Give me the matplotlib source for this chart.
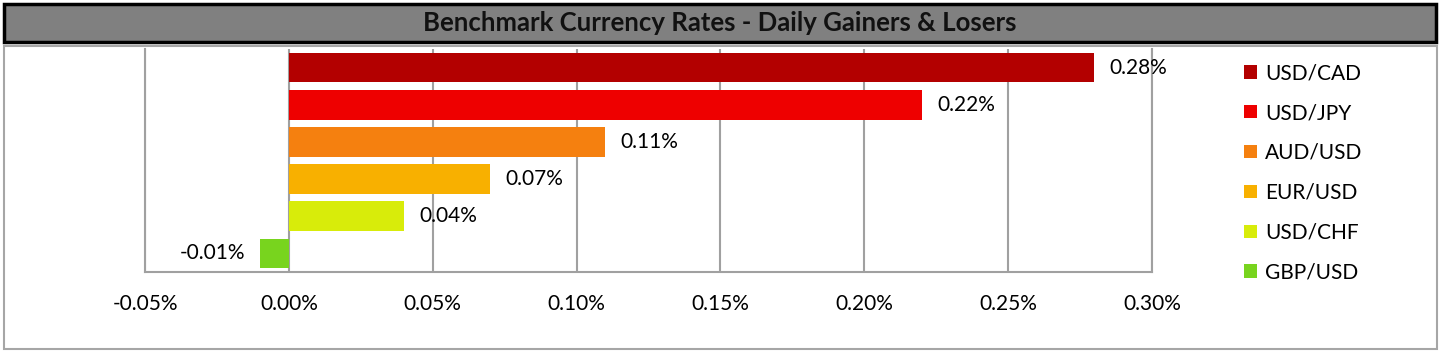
import matplotlib.pyplot as plt
from matplotlib.patches import Rectangle, Patch
from matplotlib.ticker import FuncFormatter

# data
pairs = ['USD/CAD', 'USD/JPY', 'AUD/USD', 'EUR/USD', 'USD/CHF', 'GBP/USD']
changes = [0.28, 0.22, 0.11, 0.07, 0.04, -0.01]
colors = ['#B30000', '#EE0000', '#F5800F', '#F8B000', '#D8EC0A', '#78D41E']
xticks = [-0.05, 0.00, 0.05, 0.10, 0.15, 0.20, 0.25, 0.30]

plt.rcParams['font.family'] = ['Lato', 'DejaVu Sans']

W, H = 1441, 354
fig = plt.figure(figsize=(W / 100, H / 100), dpi=100)


def box(x0, y0, x1, y1):
    # pixel box (top-left origin) -> figure fraction rect
    return [x0 / W, 1 - y1 / H, (x1 - x0) / W, (y1 - y0) / H]


# title bar
l, b, w, h = box(4, 4, 1436, 42)
fig.patches.append(Rectangle((l, b), w, h, transform=fig.transFigure,
                             facecolor='#808080', edgecolor='black', lw=2.5, zorder=-2))
fig.text(l + w / 2, b + h / 2, 'Benchmark Currency Rates - Daily Gainers & Losers',
         ha='center', va='center', fontsize=18.5, fontweight='bold', color='#111111')

# chart frame
l, b, w, h = box(4, 46, 1437, 349)
fig.patches.append(Rectangle((l, b), w, h, transform=fig.transFigure,
                             facecolor='white', edgecolor='#a6a6a6', lw=1.5, zorder=-2))

ax = fig.add_axes(box(145, 49, 1152, 272))
ax.set_zorder(2)
ax.patch.set_alpha(0)
y = list(range(len(pairs)))
bars = ax.barh(y, changes, height=0.8, color=colors, zorder=3)
ax.set_ylim(len(pairs) - 0.5, -0.5)
ax.set_xlim(-0.05, 0.30)
ax.set_xticks(xticks)
ax.xaxis.set_major_formatter(FuncFormatter(lambda v, p: f'{v:.2f}%'))
ax.tick_params(axis='x', length=0, labelsize=15, pad=16, colors='black')
ax.set_yticks([])
ax.grid(axis='x', color='#a0a0a0', lw=1.5, zorder=0)
for s in ax.spines.values():
    s.set_color('#a0a0a0')
    s.set_linewidth(1.5)
ax.spines['top'].set_visible(False)

for yi, v in zip(y, changes):
    if v >= 0:
        ax.annotate(f'{v:.2f}%', (v, yi), xytext=(11, 0), textcoords='offset points',
                    ha='left', va='center', fontsize=15, zorder=4)
    else:
        ax.annotate(f'{v:.2f}%', (v, yi), xytext=(-11, 0), textcoords='offset points',
                    ha='right', va='center', fontsize=15, zorder=4)

handles = [Patch(facecolor=c, label=p) for c, p in zip(colors, pairs)]
fig.legend(handles=handles, loc='upper left', bbox_to_anchor=(1236 / W, 1 - 55 / H),
           frameon=False, fontsize=15, handlelength=0.6, handleheight=0.6,
           handletextpad=0.4, labelspacing=0.95, borderaxespad=0)

fig.savefig('out.png', dpi=100)
